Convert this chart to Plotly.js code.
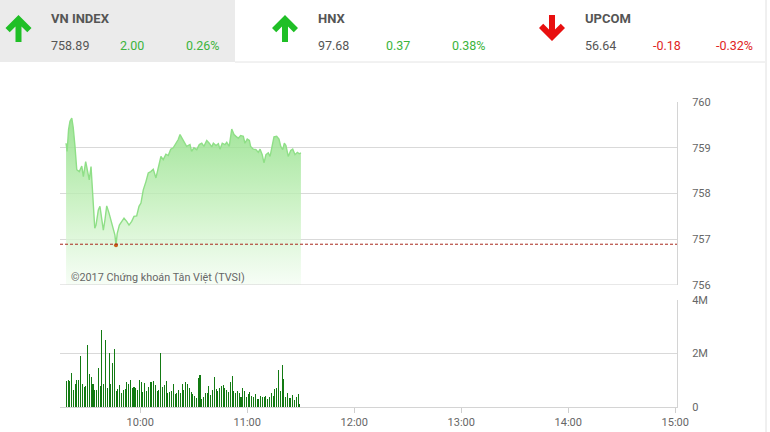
<!DOCTYPE html>
<html><head><meta charset="utf-8">
<script src="https://cdn.plot.ly/plotly-3.0.1.min.js"></script>
<style>html,body{margin:0;padding:0;background:#fff;}#chart{width:770px;height:432px;}</style>
</head><body><div id="chart"></div>
<script>
// ---- data ----
const indexNames = ['VN INDEX', 'HNX', 'UPCOM'];
const indexValues = ['758.89', '97.68', '56.64'];
const indexChanges = ['2.00', '0.37', '-0.18'];
const indexPercents = ['0.26%', '0.38%', '-0.32%'];
const indexUp = [true, true, false];

// minutes after midnight
const priceTime = [558.4,559.0,559.8,560.6,561.6,562.4,563.4,564.4,565.8,567.2,
568.1,569.4,570.3,571.4,572.4,573.1,573.7,574.5,575.2,576.5,
577.4,578.4,579.3,580.2,581.2,582.5,584.0,584.9,585.8,586.4,
587.1,588.3,589.6,590.9,592.4,593.7,595.2,596.5,598.0,599.3,
600.4,601.7,603.2,604.5,605.9,607.3,608.8,610.1,611.6,612.9,
614.4,615.7,617.1,618.5,620.0,621.3,622.3,624.1,626.0,627.9,
628.8,630.1,631.7,633.1,634.5,635.7,637.3,638.7,640.1,641.0,
642.5,643.8,644.7,646.0,647.5,648.5,649.9,651.3,652.6,653.7,
655.0,656.3,657.8,658.7,660.0,661.2,661.9,663.4,664.9,666.2,
667.2,668.4,669.4,670.5,671.8,672.8,673.7,675.0,676.5,677.8,
678.8,679.9,680.8,681.7,683.0,684.4,685.5,686.8,688.1,689.2,
690.1];
const priceValue = [759.10,758.92,759.40,759.58,759.65,759.45,759.03,758.52,758.48,758.60,
758.37,758.70,758.52,758.30,758.59,758.15,757.64,757.24,757.31,757.64,
757.72,757.42,757.20,757.42,757.73,757.57,757.35,757.20,757.09,756.87,
757.13,757.31,757.39,757.46,757.39,757.31,757.39,757.50,757.51,757.72,
757.79,758.08,758.26,758.45,758.48,758.53,758.34,758.55,758.81,758.74,
758.86,758.83,758.97,759.00,759.10,759.18,759.29,759.16,759.03,759.07,
758.92,759.00,758.96,759.07,759.10,759.03,759.16,759.10,759.02,759.10,
759.05,759.09,758.97,759.10,759.07,759.12,759.03,759.41,759.29,759.25,
759.21,759.27,759.25,759.10,759.19,759.16,759.03,758.97,758.96,758.90,
758.97,758.85,758.67,758.85,758.89,758.81,759.00,759.24,759.25,759.19,
759.03,758.96,759.10,759.05,758.81,758.94,758.97,758.85,758.90,758.87,
758.89];
const refPrice = 756.89;

// one bar per minute, starting at volStartMinute; values in millions of shares
const volStartMinute = 558.5;
const volumeM = [0.97,1.03,0.97,1.26,0.64,0.85,1.01,1.03,1.91,0.86,
0.76,0.79,2.32,1.23,1.11,0.88,0.64,0.64,1.48,0.79,
2.90,0.85,2.50,0.70,2.01,0.85,1.66,2.19,0.60,0.66,
0.82,0.54,0.64,0.66,0.95,0.85,1.01,0.72,
0.76,0.73,0.64,1.01,0.93,0.56,0.91,0.61,0.76,0.95,
0.93,0.97,0.82,0.60,0.64,2.01,0.76,0.82,0.97,0.51,
0.57,0.61,0.86,0.49,0.54,0.64,0.51,0.86,0.64,0.95,
0.86,0.70,0.57,0.49,0.41,0.32,1.07,1.20,0.29,0.36,
0.51,0.54,0.80,0.45,0.64,1.11,0.66,0.61,
0.70,0.79,0.82,0.70,0.64,0.57,0.95,1.16,0.61,0.54,
0.61,0.51,0.39,0.70,0.61,0.36,0.49,0.57,0.41,0.39,
0.49,0.30,0.30,0.41,0.36,0.36,0.41,0.29,0.36,0.54,
0.41,0.66,0.70,1.38,0.60,1.57,1.05,0.39,0.54,0.32,
0.35,0.45,0.26,0.39,0.49,0.11];

const hourTicks = [600, 660, 720, 780, 840, 900];
const hourLabels = ['10:00', '11:00', '12:00', '13:00', '14:00', '15:00'];
const priceTicks = [756, 757, 758, 759, 760];
const volTicks = [0, 2, 4];
const volLabels = ['0', '2M', '4M'];
const copyrightText = '©2017 Chứng khoán Tân Việt (TVSI)';

// ---- layout helpers ----
const FW = 770, FH = 432;
const L = 60, R = 93, T = 102, B = 25;
const W = FW - L - R, H = FH - T - B;
const px = x => (x - L) / W;
const py = y => (FH - B - y) / H;

const GREEN = '#3cb43c', RED = '#e02424', TXT = '#555555';
const FONT = 'Roboto, "Liberation Sans", sans-serif';

function arrowPath(cx, yTip, yEnd) {
  const dir = yEnd > yTip ? 1 : -1;
  const a = 13, c = 4.24, t = 3;
  const pts = [[cx, 0], [cx + a, a], [cx + a - c, a + c], [cx + t, 2 * c + t],
    [cx + t, Math.abs(yEnd - yTip)], [cx - t, Math.abs(yEnd - yTip)],
    [cx - t, 2 * c + t], [cx - a + c, a + c], [cx - a, a]];
  return pts.map((p, i) => (i ? 'L' : 'M') + px(p[0]).toFixed(5) + ',' + py(yTip + dir * p[1]).toFixed(5)).join(' ') + ' Z';
}

const volTime = volumeM.map((_, i) => volStartMinute + i);
let minIdx = 0;
priceValue.forEach((v, i) => { if (v < priceValue[minIdx]) minIdx = i; });

const traces = [
  {
    x: priceTime, y: priceValue, type: 'scatter', mode: 'lines',
    xaxis: 'x', yaxis: 'y',
    line: {color: '#8fdf87', width: 1.4},
    fill: 'tozeroy',
    fillgradient: {type: 'vertical', start: 756, stop: 759.7,
      colorscale: [[0, 'rgba(244,253,243,0.75)'], [0.45, 'rgba(196,240,188,0.8)'], [1, 'rgba(136,221,126,0.82)']]},
    hoverinfo: 'skip'
  },
  {
    x: [priceTime[minIdx]], y: [priceValue[minIdx]], type: 'scatter', mode: 'markers',
    xaxis: 'x', yaxis: 'y', marker: {color: '#c8641e', size: 4}, hoverinfo: 'skip'
  },
  {
    x: volTime, y: volumeM, type: 'bar', xaxis: 'x', yaxis: 'y2',
    marker: {color: '#137a13', line: {width: 0}}, width: 0.58, hoverinfo: 'skip'
  }
];

const shapes = [
  {type: 'rect', xref: 'paper', yref: 'paper', x0: px(0), x1: px(235), y0: py(62), y1: py(0),
    fillcolor: '#ebebeb', line: {width: 0}, layer: 'below'},
  {type: 'line', xref: 'paper', yref: 'paper', x0: px(235), x1: px(765), y0: py(62), y1: py(62),
    line: {color: '#e4e4e4', width: 1}},
  {type: 'line', xref: 'paper', yref: 'paper', x0: px(766), x1: px(766), y0: py(0), y1: py(432),
    line: {color: '#e0e0e0', width: 1}},
  {type: 'line', xref: 'paper', yref: 'y', x0: 0, x1: 1, y0: priceTicks[0], y1: priceTicks[0],
    line: {color: '#d9d9d9', width: 1}},
  {type: 'line', xref: 'paper', yref: 'y', x0: 0, x1: 1, y0: refPrice, y1: refPrice,
    line: {color: '#a8281c', width: 1, dash: '3px,2px'}}
];

const annotations = [];
const colOffset = [0, 266.5, 533.5];
indexNames.forEach((name, i) => {
  const o = colOffset[i];
  const col = indexUp[i] ? GREEN : RED;
  if (indexUp[i]) {
    shapes.push({type: 'path', xref: 'paper', yref: 'paper', path: arrowPath(18.5 + o, 15, 42),
      fillcolor: '#1fbf26', line: {width: 0}});
  } else {
    shapes.push({type: 'path', xref: 'paper', yref: 'paper', path: arrowPath(18.5 + o, 41, 15),
      fillcolor: '#e80f0f', line: {width: 0}});
  }
  annotations.push({xref: 'paper', yref: 'paper', x: px(49 + o), y: py(18), xanchor: 'left', yanchor: 'middle',
    text: name, showarrow: false, font: {family: FONT, size: 13, color: TXT, weight: 700}});
  annotations.push({xref: 'paper', yref: 'paper', x: px(49 + o), y: py(45), xanchor: 'left', yanchor: 'middle',
    text: indexValues[i], showarrow: false, font: {family: FONT, size: 12.5, color: TXT}});
  annotations.push({xref: 'paper', yref: 'paper', x: px(117.5 + o), y: py(45), xanchor: 'left', yanchor: 'middle',
    text: indexChanges[i], showarrow: false, font: {family: FONT, size: 12.5, color: col}});
  annotations.push({xref: 'paper', yref: 'paper', x: px(221.5 + o), y: py(45), xanchor: 'right', yanchor: 'middle',
    text: indexPercents[i], showarrow: false, font: {family: FONT, size: 12.5, color: col}});
});
annotations.push({xref: 'paper', yref: 'paper', x: px(69), y: py(277), xanchor: 'left', yanchor: 'middle',
  text: copyrightText, showarrow: false, font: {family: FONT, size: 10.8, color: '#666'}});

const layout = {
  width: FW, height: FH,
  margin: {l: L, r: R, t: T, b: B, pad: 0},
  paper_bgcolor: '#fff', plot_bgcolor: 'rgba(0,0,0,0)',
  showlegend: false, bargap: 0,
  font: {family: FONT, size: 11, color: '#666'},
  xaxis: {
    range: [555, 901], anchor: 'y2', type: 'linear',
    tickvals: hourTicks, ticktext: hourLabels,
    ticks: 'outside', ticklen: 5, tickcolor: '#cfcfcf', tickwidth: 1,
    showgrid: false, zeroline: false,
    showline: true, linecolor: '#d4d4d4', linewidth: 1,
    tickfont: {family: FONT, size: 11, color: '#666'}, fixedrange: true
  },
  yaxis: {
    domain: [py(285), py(102)], range: [755.998, 760.002], side: 'right', anchor: 'x',
    tickvals: priceTicks, ticks: '', ticklabelstandoff: 12,
    showgrid: true, gridcolor: '#d9d9d9', gridwidth: 1, zeroline: false,
    showline: true, linecolor: '#d4d4d4', linewidth: 1,
    tickfont: {family: FONT, size: 11, color: '#666'}, fixedrange: true
  },
  yaxis2: {
    domain: [0, py(300)], range: [0, 4.01], side: 'right', anchor: 'x',
    tickvals: volTicks, ticktext: volLabels, ticks: '', ticklabelstandoff: 12,
    showgrid: true, gridcolor: '#d9d9d9', gridwidth: 1, zeroline: false,
    showline: true, linecolor: '#d4d4d4', linewidth: 1,
    tickfont: {family: FONT, size: 11, color: '#666'}, fixedrange: true
  },
  shapes: shapes,
  annotations: annotations
};

Plotly.newPlot('chart', traces, layout, {staticPlot: true, displayModeBar: false});
</script>
</body></html>
